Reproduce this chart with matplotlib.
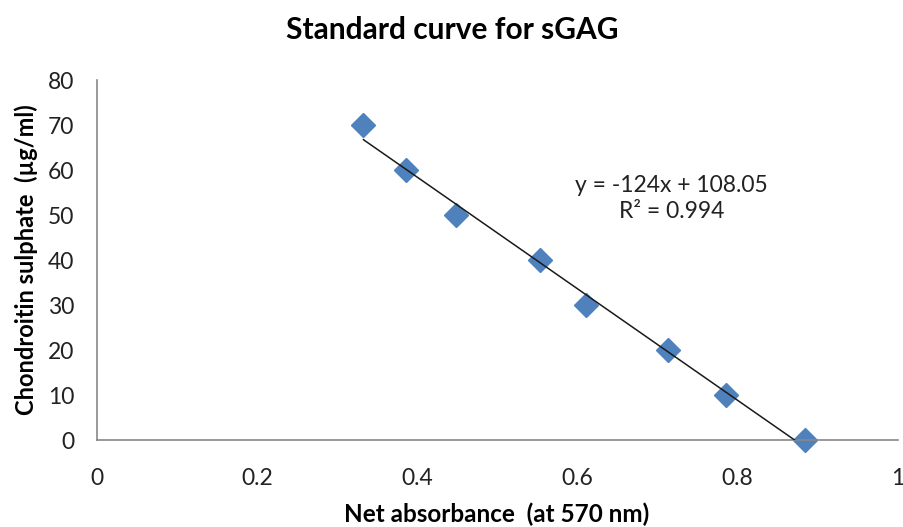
import numpy as np
import matplotlib
matplotlib.use("Agg")
import matplotlib.pyplot as plt

# Data
absorbance = [0.333, 0.386, 0.448, 0.553, 0.611, 0.713, 0.786, 0.884]
concentration = [70, 60, 50, 40, 30, 20, 10, 0]
slope = -124.0
intercept = 108.05
r_squared = 0.994
x_ticks = [0, 0.2, 0.4, 0.6, 0.8, 1]
x_tick_labels = ["0", "0.2", "0.4", "0.6", "0.8", "1"]
y_ticks = [0, 10, 20, 30, 40, 50, 60, 70, 80]

plt.rcParams['font.family'] = ['Lato', 'DejaVu Sans']

fig = plt.figure(figsize=(9.04, 5.27), dpi=100)
ax = fig.add_axes([0.107, 0.165, 0.886, 0.683])

ax.plot(absorbance, concentration, linestyle='none', marker='D', markersize=12,
        color='#4F81BD', zorder=2, clip_on=False)

xs = np.array([min(absorbance), max(absorbance)])
ax.plot(xs, slope * xs + intercept, color='#1a1a1a', linewidth=1.1, zorder=3)

ax.set_xlim(0, 1)
ax.set_ylim(0, 80)
ax.set_xticks(x_ticks)
ax.set_xticklabels(x_tick_labels)
ax.set_yticks(y_ticks)
ax.tick_params(axis='both', length=0, labelsize=16.5, colors='#222222')
ax.tick_params(axis='x', pad=20)
ax.tick_params(axis='y', pad=16)

for side in ['top', 'right']:
    ax.spines[side].set_visible(False)
for side in ['left', 'bottom']:
    ax.spines[side].set_color('#888888')
    ax.spines[side].set_linewidth(1.2)

fig.text(0.549, 0.025, 'Net absorbance  (at 570 nm)', fontsize=17.5, fontweight='bold',
         ha='center', va='center')
ax.set_ylabel('Chondroitin sulphate  (µg/ml)', fontsize=17, fontweight='bold', labelpad=7)
fig.text(0.5, 0.943, 'Standard curve for sGAG', fontsize=21.5, fontweight='bold',
         ha='center', va='center')

ax.text(0.718, 0.672, f'y = {slope:g}x + {intercept:.2f}\nR² = {r_squared:.3f}',
        transform=ax.transAxes, ha='center', va='center', fontsize=16.5,
        color='#222222', linespacing=1.3)

fig.savefig('out.png', dpi=100)
